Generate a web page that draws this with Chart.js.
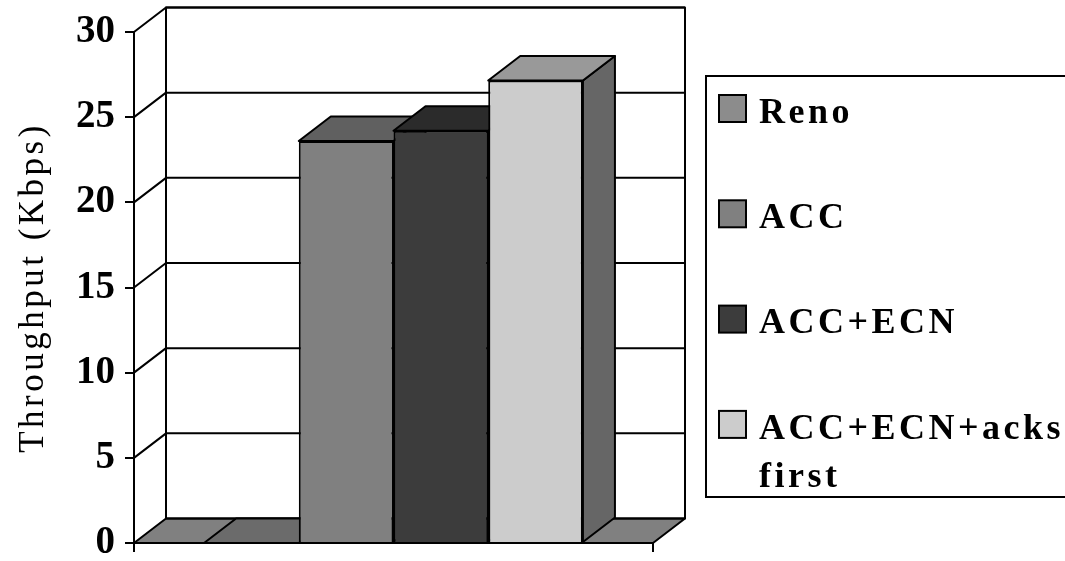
<!DOCTYPE html>
<html>
<head>
<meta charset="utf-8">
<title>Throughput</title>
<script src="https://cdn.jsdelivr.net/npm/chart.js@4/dist/chart.umd.min.js"></script>
<style>
    html, body { margin: 0; padding: 0; background: #fff; }
    canvas { display: block; }
</style>
</head>
<body>
<canvas id="chart" width="1065" height="561"></canvas>
<script>
const categories = [''];
const seriesNames = ['Reno', 'ACC', 'ACC+ECN', ['ACC+ECN+acks', 'first']];
const renoValues = [0];
const accValues = [23.6];
const accEcnValues = [24.2];
const accEcnAcksValues = [27.15];
const yTickValues = [0, 5, 10, 15, 20, 25, 30];

const frontColors = ['#8c8c8c', '#808080', '#3c3c3c', '#cccccc'];
const topColors = ['#6b6b6b', '#606060', '#2b2b2b', '#999999'];
const sideColor = '#666666';
const floorColor = '#808080';

// offset of the back plane from the front plane
const depthX = 32;
const depthY = 24.5;

// legend frame and swatches
const swatchLeft = 719;
const swatchTop = 95;
const swatchSize = 27;
const legendRowStep = 105.3;

const fillFace = (ctx, points, color) => {
    ctx.beginPath();
    points.forEach(([x, y], i) => (i ? ctx.lineTo(x, y) : ctx.moveTo(x, y)));
    ctx.closePath();
    if (color) {
        ctx.fillStyle = color;
        ctx.fill();
    }
    ctx.stroke();
};

const threeDeePlugin = {
    id: 'threeDee',
    afterLayout(chart) {
        // the legend sits further right than its layout box
        const legend = chart.legend;
        const padding = legend.options.labels.padding;
        legend.left = swatchLeft - padding;
        legend.right = 1100;
        legend.top = 95.5 - padding;
        legend.bottom = 2000;
    },
    beforeDraw(chart) {
        const ctx = chart.ctx;
        ctx.save();
        ctx.strokeStyle = '#000';
        ctx.lineWidth = 2;
        ctx.strokeRect(706, 76, 400, 421);
        frontColors.forEach((color, i) => {
            const top = swatchTop + legendRowStep * i;
            ctx.fillStyle = color;
            ctx.fillRect(swatchLeft, top, swatchSize, swatchSize);
            ctx.strokeRect(swatchLeft, top, swatchSize, swatchSize);
        });
        ctx.restore();
        ctx.letterSpacing = '3.5px';
    },
    beforeDatasetsDraw(chart) {
        const ctx = chart.ctx;
        const { left, right, bottom } = chart.chartArea;
        const y = chart.scales.y;
        const backTop = y.getPixelForValue(yTickValues[yTickValues.length - 1]) - depthY;
        const backBottom = bottom - depthY;

        ctx.save();
        ctx.strokeStyle = '#000';
        ctx.lineWidth = 2;
        ctx.lineJoin = 'round';

        // floor and back wall
        fillFace(ctx, [[left, bottom], [left + depthX, backBottom], [right + depthX, backBottom], [right, bottom]], floorColor);
        ctx.strokeRect(left + depthX, backTop, right - left, backBottom - backTop);

        // gridlines run up the side wall and across the back
        yTickValues.slice(1).forEach(value => {
            const py = y.getPixelForValue(value);
            ctx.beginPath();
            ctx.moveTo(left, py);
            ctx.lineTo(left + depthX, py - depthY);
            ctx.lineTo(right + depthX, py - depthY);
            ctx.stroke();
        });

        // tops and sides of the bars, the fronts come from the library
        chart.data.datasets.forEach((dataset, i) => {
            chart.getDatasetMeta(i).data.forEach(bar => {
                const l = bar.x - bar.width / 2;
                const r = bar.x + bar.width / 2;
                fillFace(ctx, [[r, bar.y], [r + depthX, bar.y - depthY], [r + depthX, bar.base - depthY], [r, bar.base]], sideColor);
                fillFace(ctx, [[l, bar.y], [l + depthX, bar.y - depthY], [r + depthX, bar.y - depthY], [r, bar.y]], topColors[i]);
            });
        });
        ctx.restore();
    },
    afterDatasetsDraw(chart) {
        // y tick labels come after this and are not spaced out
        chart.ctx.letterSpacing = '0px';
    }
};

const makeDataset = (index, values) => ({
    label: seriesNames[index],
    data: values,
    backgroundColor: frontColors[index],
    borderColor: '#000',
    borderWidth: 2,
    categoryPercentage: 0.73,
    barPercentage: 1
});

new Chart(document.getElementById('chart'), {
    type: 'bar',
    data: {
        labels: categories,
        datasets: [
            makeDataset(0, renoValues),
            makeDataset(1, accValues),
            makeDataset(2, accEcnValues),
            makeDataset(3, accEcnAcksValues)
        ]
    },
    options: {
        responsive: false,
        animation: false,
        layout: { padding: { left: 0, right: 212, top: 32, bottom: 0 } },
        plugins: {
            tooltip: { enabled: false },
            legend: {
                position: 'right',
                align: 'start',
                maxWidth: 200,
                labels: {
                    color: '#000',
                    font: { family: '"Liberation Serif"', size: 36, weight: 'bold', lineHeight: 1.33 },
                    boxWidth: 22,
                    boxHeight: 27,
                    padding: 69.3,
                    // swatches are drawn with the legend frame, so the boxes here stay empty
                    generateLabels: chart => chart.data.datasets.map((dataset, i) => ({
                        text: dataset.label,
                        fillStyle: 'rgba(0,0,0,0)',
                        strokeStyle: 'rgba(0,0,0,0)',
                        lineWidth: 0,
                        datasetIndex: i
                    }))
                }
            }
        },
        scales: {
            x: {
                afterFit: scale => { scale.height = 18; },
                grid: { drawOnChartArea: false, color: '#000', lineWidth: 2, tickLength: 9 },
                border: { color: '#000', width: 2 },
                ticks: { display: false }
            },
            y: {
                min: yTickValues[0],
                max: yTickValues[yTickValues.length - 1],
                afterFit: scale => {
                    scale.width = 134;
                    scale.paddingTop = 0;
                    scale.paddingBottom = 0;
                },
                afterBuildTicks: scale => { scale.ticks = yTickValues.map(value => ({ value })); },
                grid: { drawOnChartArea: false, color: '#000', lineWidth: 2, tickLength: 9 },
                border: { color: '#000', width: 2 },
                ticks: {
                    z: 1,
                    color: '#000',
                    padding: 10,
                    font: { family: '"Liberation Serif"', size: 39, weight: 'bold' }
                },
                title: {
                    display: true,
                    text: 'Throughput (Kbps)',
                    color: '#000',
                    padding: { top: 13, bottom: 0 },
                    font: { family: '"Liberation Serif"', size: 35, weight: 'normal' }
                }
            }
        }
    },
    plugins: [threeDeePlugin]
});
</script>
</body>
</html>
